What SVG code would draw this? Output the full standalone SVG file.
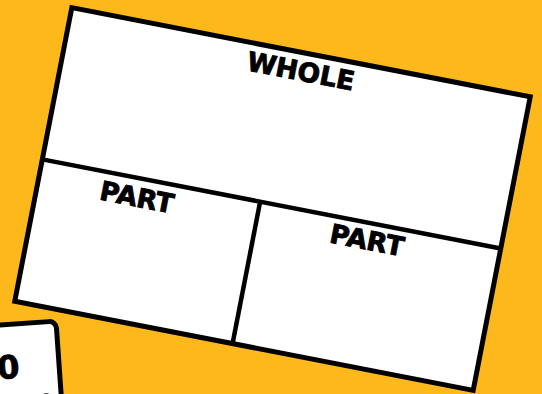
<svg xmlns="http://www.w3.org/2000/svg" width="542" height="394" viewBox="0 0 542 394">
  <style>
    .box { fill: #ffffff; stroke: #000000; stroke-width: 5; stroke-linejoin: miter; }
    .div { stroke: #000000; stroke-width: 4.5; fill: none; }
    .lbl { font-family: "DejaVu Sans", "Liberation Sans", sans-serif; font-weight: bold; font-size: 26.5px; fill: #000000; stroke: #000000; stroke-width: 0.9; text-anchor: middle; }
  </style>
  <rect x="0" y="0" width="542" height="394" fill="#FDB91B"/>

  <g id="card" transform="translate(58,321) rotate(-4)">
    <rect x="-120" y="0" width="118" height="130" rx="7" class="box"/>
    <text x="-64" y="54" font-family="DejaVu Sans, sans-serif" font-weight="bold" font-size="32" fill="#000" stroke="#000" stroke-width="0.8">0</text>
    <circle cx="-17" cy="76" r="5" fill="#555"/>
  </g>

  <g transform="translate(272.5,199) rotate(11)">
    <g id="whole">
      <rect x="-233.5" y="-149.5" width="467" height="299" class="box"/>
      <text x="3.5" y="-121.5" class="lbl">WHOLE</text>
    </g>
    <g id="connectors">
      <line x1="-233.5" y1="5" x2="233.5" y2="5" class="div"/>
      <line x1="-11.6" y1="5" x2="-11.6" y2="149.5" class="div"/>
    </g>
    <g id="part-left">
      <text x="-133.4" y="33.5" class="lbl">PART</text>
    </g>
    <g id="part-right">
      <text x="100.6" y="31.7" class="lbl">PART</text>
    </g>
  </g>
</svg>
